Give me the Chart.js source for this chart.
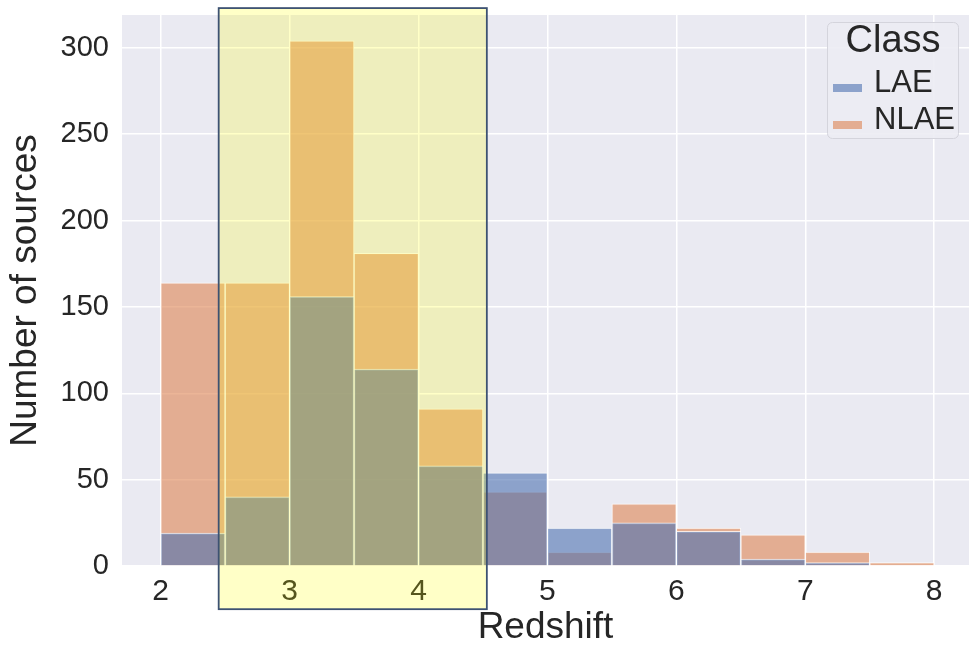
<!DOCTYPE html>
<html>
<head>
<meta charset="utf-8">
<script src="https://cdn.jsdelivr.net/npm/chart.js@4/dist/chart.umd.min.js"></script>
<style>
  body { margin: 0; background: #ffffff; }
</style>
</head>
<body>
<canvas id="zChart" width="969" height="646"></canvas>
<script>
// histogram bins (redshift, bin centres, width 0.5)
const binCentres = [2.25, 2.75, 3.25, 3.75, 4.25, 4.75, 5.25, 5.75, 6.25, 6.75, 7.25, 7.75];
const laeCounts  = [19, 40, 156, 114, 58, 54, 22, 25, 20, 4, 2, 0];
const nlaeCounts = [164, 164, 304, 181, 91, 43, 8, 36, 22, 18, 8, 2];
const classNames = ['LAE', 'NLAE'];
const xTicks = [2, 3, 4, 5, 6, 7, 8];
const yTicks = [0, 50, 100, 150, 200, 250, 300];
// highlighted redshift window
const boxRange = [2.45, 4.53];
const boxCounts = [-25, 323];

const textCol = '#262626';
const font = 'Liberation Sans, Arial, sans-serif';

const bgPlugin = {
	id: 'bg',
	beforeDraw(chart) {
		const a = chart.chartArea, c = chart.ctx;
		c.save();
		c.fillStyle = '#eaeaf2';
		c.fillRect(a.left, a.top, a.right - a.left, a.bottom - a.top);
		c.restore();
	}
};

const legendPlugin = {
	id: 'classLegend',
	afterDatasetsDraw(chart) {
		const c = chart.ctx;
		c.save();
		c.fillStyle = 'rgba(236,236,243,0.9)';
		c.strokeStyle = '#d4d4dc';
		c.lineWidth = 1;
		c.beginPath();
		c.roundRect(827.5, 22.5, 131, 116, 5);
		c.fill();
		c.stroke();
		c.fillStyle = textCol;
		c.textBaseline = 'middle';
		c.textAlign = 'center';
		c.font = '38px ' + font;
		c.fillText('Class', 893, 42);
		c.textAlign = 'left';
		c.font = '31px ' + font;
		chart.data.datasets.forEach(function(ds, i) {
			const y = 83 + i * 37;
			c.fillStyle = ds.backgroundColor;
			c.fillRect(833, y + 1, 29, 8);
			c.fillStyle = textCol;
			c.fillText(ds.label, 874, y);
		});
		c.restore();
	}
};

const boxPlugin = {
	id: 'zBox',
	afterDraw(chart) {
		const x = chart.scales.x, y = chart.scales.y, c = chart.ctx;
		const x0 = x.getPixelForValue(boxRange[0]), x1 = x.getPixelForValue(boxRange[1]);
		const y0 = y.getPixelForValue(boxCounts[1]), y1 = y.getPixelForValue(boxCounts[0]);
		c.save();
		c.fillStyle = 'rgba(255,255,0,0.22)';
		c.fillRect(x0, y0, x1 - x0, y1 - y0);
		c.strokeStyle = '#3d5272';
		c.lineWidth = 1.8;
		c.strokeRect(x0, y0, x1 - x0, y1 - y0);
		c.restore();
	}
};

new Chart(document.getElementById('zChart'), {
	type: 'bar',
	data: {
		datasets: [{
			label: classNames[0],
			data: binCentres.map((b, i) => ({x: b, y: laeCounts[i]})),
			backgroundColor: 'rgba(76,114,176,0.6)',
			borderColor: 'rgba(255,255,255,0.75)',
			borderWidth: 1
		}, {
			label: classNames[1],
			data: binCentres.map((b, i) => ({x: b, y: nlaeCounts[i]})),
			backgroundColor: 'rgba(221,132,82,0.6)',
			borderColor: 'rgba(255,255,255,0.75)',
			borderWidth: 1
		}]
	},
	options: {
		responsive: false,
		animation: false,
		grouped: false,
		barPercentage: 1,
		categoryPercentage: 1,
		layout: { padding: { top: 15, right: 0, left: 0, bottom: 0 } },
		plugins: {
			legend: { display: false },
			tooltip: { enabled: false }
		},
		scales: {
			x: {
				type: 'linear',
				offset: false,
				min: 1.7,
				max: 8.27,
				afterBuildTicks: s => { s.ticks = xTicks.map(v => ({value: v})); },
				afterFit: s => { s.height = 80; },
				grid: { color: '#ffffff', lineWidth: 1.5, drawTicks: false, offset: false },
				border: { display: false },
				ticks: { color: textCol, font: { family: font, size: 30 }, padding: 8 },
				title: { display: true, text: 'Redshift', color: textCol, font: { family: font, size: 37, lineHeight: 1 }, padding: 0 }
			},
			y: {
				min: 0,
				max: 319,
				afterBuildTicks: s => { s.ticks = yTicks.map(v => ({value: v})); },
				afterFit: s => { s.width = 122; s.paddingTop = 0; s.paddingBottom = 0; },
				grid: { color: '#ffffff', lineWidth: 1.5, drawTicks: false },
				border: { display: false },
				ticks: { color: textCol, font: { family: font, size: 29 }, padding: 13 },
				title: { display: true, text: 'Number of sources', color: textCol, font: { family: font, size: 37, lineHeight: 1.2 }, padding: 4 }
			}
		}
	},
	plugins: [bgPlugin, legendPlugin, boxPlugin]
});
</script>
</body>
</html>
